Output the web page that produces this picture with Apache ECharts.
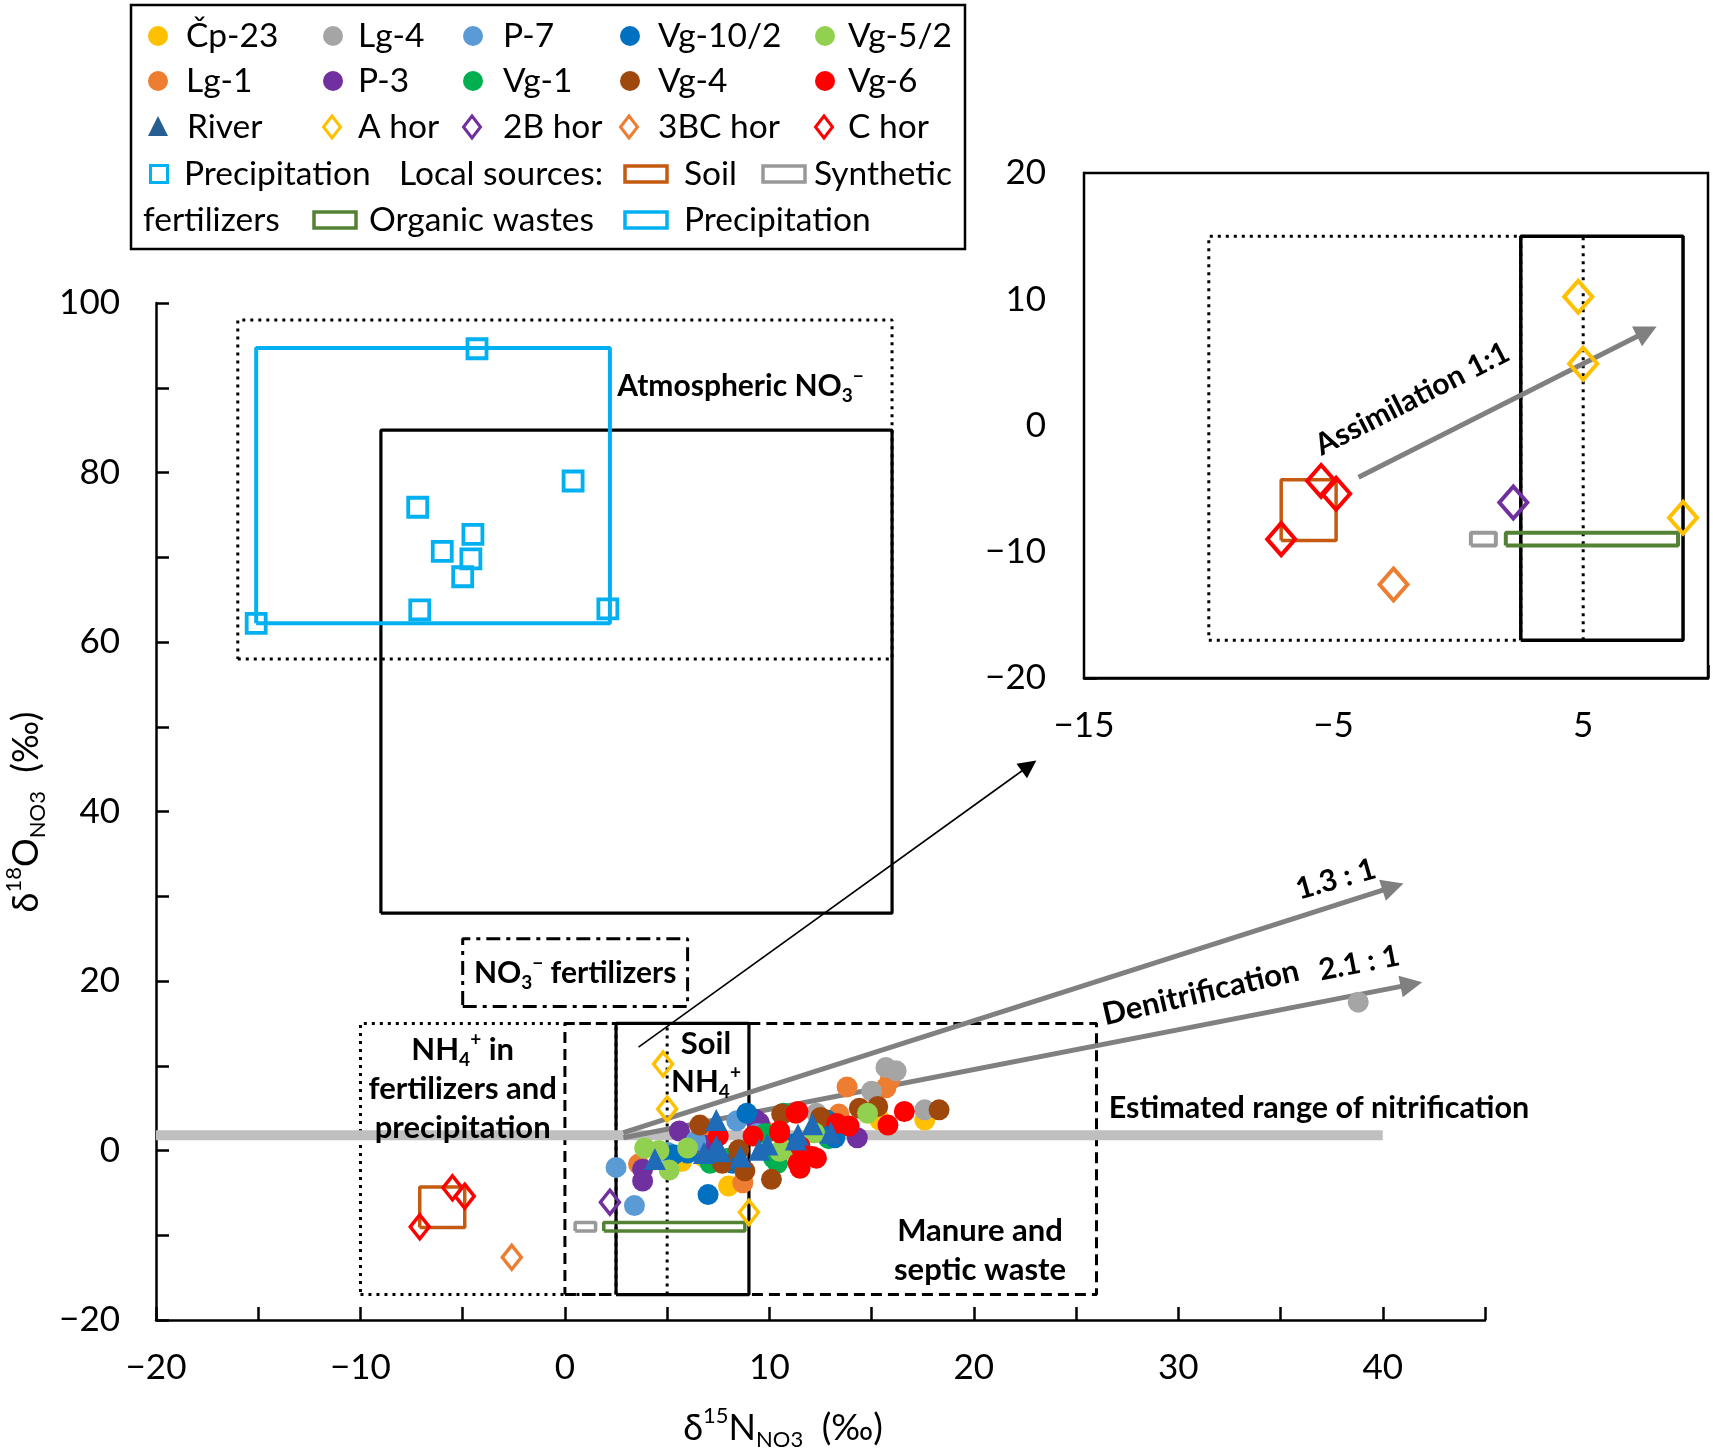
<!DOCTYPE html>
<html><head><meta charset="utf-8">
<script src="https://cdn.jsdelivr.net/npm/echarts@6/dist/echarts.min.js"></script>
<style>html,body{margin:0;padding:0;background:#fff}#c{width:1713px;height:1455px}</style>
</head><body><div id="c"></div>
<script>
// ---------- data (δ15N, δ18O) ----------
const cp23 = [[5.7,-1.3],[8.0,-4.2],[15.4,3.6],[17.6,3.6],[6.8,-0.8],[12.6,3.0]];
const lg1  = [[3.6,-1.6],[7.0,1.7],[8.7,-3.8],[13.4,4.3],[13.8,7.5],[15.7,7.4],[15.9,8.3],[9.6,2.8]];
const lg4  = [[15.7,9.8],[16.2,9.4],[15.0,7.0],[17.6,4.8],[12.3,4.4],[38.8,17.5],[6.2,0.8]];
const p3   = [[3.8,-2.2],[3.8,-3.6],[5.6,2.3],[9.3,3.7],[14.3,1.5],[9.5,3.3],[6.9,0.6]];
const p7   = [[2.5,-2.0],[3.4,-6.5],[6.4,1.1],[8.4,3.5],[5.0,-0.2],[9.4,2.0]];
const vg1  = [[7.1,-1.5],[10.4,-1.5],[10.2,-0.9],[10.7,4.4],[9.8,2.0],[8.0,-0.9],[12.9,1.4]];
const vg102= [[6.0,-0.3],[7.0,-5.2],[8.2,-1.5],[8.9,4.4],[12.8,3.6],[13.2,1.5],[5.3,-0.5],[11.2,0.8]];
const vg4  = [[6.6,3.0],[7.7,-1.5],[8.8,-2.4],[10.1,-3.4],[10.6,4.3],[14.4,5.0],[15.3,5.2],[18.3,4.8],[8.5,0.1],[12.5,3.9]];
const vg52 = [[3.9,0.3],[5.1,-2.3],[6.0,0.3],[10.5,-0.1],[14.8,4.4],[10.7,0.1],[4.6,0.0],[12.2,2.1]];
const vg6  = [[7.5,1.7],[9.2,1.7],[10.5,2.1],[11.3,4.4],[11.4,-1.5],[11.5,-2.1],[12.3,-0.9],[13.3,3.2],[13.9,2.9],[15.8,3.0],[16.6,4.6],[10.5,2.3],[11.5,0.5],[12.1,-0.7],[11.4,4.6]];
const river= [[4.4,-1.0],[6.8,-0.3],[7.4,0.5],[7.6,-0.1],[7.4,3.6],[8.6,-0.7],[9.5,0.1],[9.9,0.7],[11.3,1.3],[12.1,3.1],[13.0,2.1],[11.4,1.9]];
const aHor   = [[4.8,10.2],[5.0,4.9],[9.0,-7.3]];
const b2Hor  = [[2.2,-6.1]];
const bc3Hor = [[-2.6,-12.6]];
const cHor   = [[-5.5,-4.4],[-4.9,-5.4],[-7.1,-9.0]];
const precip = [[-4.3,94.6],[0.4,79.0],[-7.2,75.9],[-6.0,70.7],[-4.5,72.7],[-4.6,69.8],[-5.0,67.7],[-7.1,63.8],[2.1,63.9],[-15.1,62.2]];
// source ranges [xmin, xmax, ymin, ymax]
const soilSrc    = [-7.1,-4.9,-9.1,-4.3];
const synthSrc   = [0.5,1.5,-9.5,-8.5];
const organicSrc = [1.9,8.8,-9.5,-8.5];
const precipSrc  = [-15.1,2.2,62.2,94.7];
const atmBox     = [-16,16,58,98];
const atmBox2    = [-9,16,28,85];
const no3FertBox = [-5,6,17,25];
const nh4FertBox = [-10,2.5,-17,15];
const soilNH4Box = [2.5,9,-17,15];
const manureBox  = [0,26,-17,15];
const soilNH4Mid = [[5,-17],[5,15]];
const nitrifBand = [[-20,1.8],[40,1.8]];
const arrow13 = [[2.86,2.1],[40.5,31.1]];
const arrow21 = [[2.86,1.5],[41.4,19.6]];
const zoomArrow = [[3.6,12.2],[22.7,45.4]];
const assimArrow = [[-4.0,-4.1],[7.55,7.45]];
const mainX = {min:-20,max:45,step:5}, mainY = {min:-20,max:100,step:10};
const insX = {min:-15,max:10,step:2.5}, insY = {min:-20,max:20,step:5};

const FONT = 'Lato';
const fmtNum = v => (v < 0 ? '\u2212' : '') + Math.abs(v);
const rectPath = r => [[r[0],r[2]],[r[1],r[2]],[r[1],r[3]],[r[0],r[3]],[r[0],r[2]]];

const C = {cp23:'#FFC000',lg4:'#A5A5A5',p7:'#5B9BD5',vg102:'#0070C0',vg52:'#92D050',lg1:'#ED7D31',p3:'#7030A0',vg1:'#00B050',vg4:'#9E480E',vg6:'#FF0000',river:'#1F6BB8',
  soil:'#C55A11',synth:'#999999',org:'#548235',prec:'#00B0F0'};

function boxSeries(r, grid, color, width, type, z) {
  return {type:'line', xAxisIndex:grid, yAxisIndex:grid, data:rectPath(r), symbol:'none', silent:true, z:z||2,
    lineStyle:{color, width, type:type||'solid', cap:'butt'}, animation:false};
}
function segSeries(d, grid, color, width, type, z) {
  return {type:'line', xAxisIndex:grid, yAxisIndex:grid, data:d, symbol:'none', silent:true, z:z||2,
    lineStyle:{color, width, type:type||'solid', cap:'butt'}, animation:false};
}
function arrowSeries(d, grid, color, width, size) {
  return {type:'line', xAxisIndex:grid, yAxisIndex:grid, data:[], symbol:'none', silent:true, z:3,
    markLine:{silent:true, animation:false, symbol:['none','triangle'], symbolSize:size,
      label:{show:false}, lineStyle:{color, width, type:'solid'}, emphasis:{disabled:true},
      data:[[{coord:d[0]},{coord:d[1]}]]}};
}
function dots(name, data, color, grid, symbol, size) {
  return {type:'scatter', name, xAxisIndex:grid, yAxisIndex:grid, data, symbol:symbol||'circle', symbolSize:size||21,
    itemStyle:{color, opacity:1}, z:5, animation:false};
}
function hollow(name, data, color, grid, symbol, size, bw) {
  return {type:'scatter', name, xAxisIndex:grid, yAxisIndex:grid, data, symbol, symbolSize:size,
    itemStyle:{color:'rgba(255,255,255,0)', borderColor:color, borderWidth:bw||3, opacity:1}, z:6, animation:false};
}

const dotted = [3,5], dashed = [11,6], dashdot = [14,6,4,6];

const axisCommon = {
  axisLine:{show:true, onZero:false, lineStyle:{color:'#000', width:2.5}},
  axisTick:{show:true, inside:true, length:13, lineStyle:{color:'#000', width:2.5}},
  splitLine:{show:false}
};
const labelStyle = {fontSize:35, fontFamily:FONT, color:'#000'};

const series = [
  // main chart boxes
  boxSeries(atmBox, 0, '#000', 3, dotted),
  boxSeries(atmBox2, 0, '#000', 3.2),
  boxSeries(precipSrc, 0, C.prec, 4),
  boxSeries(no3FertBox, 0, '#000', 3, dashdot),
  boxSeries(nh4FertBox, 0, '#000', 3, dotted),
  boxSeries(manureBox, 0, '#000', 3, dashed),
  boxSeries(soilNH4Box, 0, '#000', 3.2),
  segSeries(soilNH4Mid, 0, '#000', 3, dotted),
  segSeries(nitrifBand, 0, '#BFBFBF', 10, 'solid', 2),
  boxSeries(soilSrc, 0, C.soil, 3.5),
  boxSeries(synthSrc, 0, C.synth, 3.5),
  boxSeries(organicSrc, 0, C.org, 3.5),
  arrowSeries(arrow13, 0, '#808080', 5, 22),
  arrowSeries(arrow21, 0, '#808080', 5, 22),
  arrowSeries(zoomArrow, 0, '#000', 1.6, 18),
  hollow('Precipitation', precip, C.prec, 0, 'rect', 19, 3.8),
  dots('Čp-23', cp23, C.cp23, 0), dots('Lg-1', lg1, C.lg1, 0), dots('Lg-4', lg4, C.lg4, 0),
  dots('P-3', p3, C.p3, 0), dots('P-7', p7, C.p7, 0), dots('Vg-1', vg1, C.vg1, 0),
  dots('Vg-10/2', vg102, C.vg102, 0), dots('Vg-4', vg4, C.vg4, 0), dots('Vg-5/2', vg52, C.vg52, 0),
  dots('Vg-6', vg6, C.vg6, 0),
  dots('River', river, C.river, 0, 'triangle', 22),
  hollow('A hor', aHor, C.cp23, 0, 'diamond', [19,24], 3.5),
  hollow('2B hor', b2Hor, C.p3, 0, 'diamond', [19,24], 3.5),
  hollow('3BC hor', bc3Hor, C.lg1, 0, 'diamond', [19,24], 3.5),
  hollow('C hor', cHor, C.vg6, 0, 'diamond', [19,24], 3.5),
  // inset
  boxSeries(nh4FertBox, 1, '#000', 3, dotted),
  boxSeries(soilNH4Box, 1, '#000', 3.5),
  segSeries(soilNH4Mid, 1, '#000', 3, dotted),
  boxSeries(soilSrc, 1, C.soil, 3.5),
  boxSeries(synthSrc, 1, C.synth, 4),
  boxSeries(organicSrc, 1, C.org, 4),
  arrowSeries(assimArrow, 1, '#808080', 5, 22),
  hollow('A hor', aHor, C.cp23, 1, 'diamond', [28,32], 4),
  hollow('2B hor', b2Hor, C.p3, 1, 'diamond', [28,32], 4),
  hollow('3BC hor', bc3Hor, C.lg1, 1, 'diamond', [28,32], 4),
  hollow('C hor', cHor, C.vg6, 1, 'diamond', [28,32], 4)
];

const chart = echarts.init(document.getElementById('c'), null, {renderer:'canvas'});
chart.setOption({
  backgroundColor:'#fff', animation:false,
  grid:[
    {left:156, top:303, width:1329, height:1017, containLabel:false},
    {left:1084, top:173, width:624, height:505, show:true, backgroundColor:'#fff', borderColor:'#000', borderWidth:2.5, z:1}
  ],
  xAxis:[
    Object.assign({type:'value', gridIndex:0, min:mainX.min, max:mainX.max, interval:mainX.step,
      axisLabel:Object.assign({margin:30, formatter:v => (v%10===0 && v<=40) ? fmtNum(v) : ''}, labelStyle)}, axisCommon),
    Object.assign({type:'value', gridIndex:1, min:insX.min, max:insX.max, interval:insX.step,
      axisLabel:Object.assign({margin:30, formatter:v => (Math.abs((v+15)%10)<1e-6 && v<10) ? fmtNum(v) : ''}, labelStyle)}, axisCommon)
  ],
  yAxis:[
    Object.assign({type:'value', gridIndex:0, min:mainY.min, max:mainY.max, interval:mainY.step,
      axisLabel:Object.assign({margin:36, formatter:v => (v%20===0) ? fmtNum(v) : ''}, labelStyle)}, axisCommon),
    Object.assign({type:'value', gridIndex:1, min:insY.min, max:insY.max, interval:insY.step,
      axisLabel:Object.assign({margin:38, formatter:v => (v%10===0) ? fmtNum(v) : ''}, labelStyle)}, axisCommon)
  ],
  series
});

// ---------- text annotations & legend ----------
const sub = {fontSize:19, fontWeight:'bold', fontFamily:FONT, verticalAlign:'bottom', lineHeight:22};
const sup = {fontSize:19, fontWeight:'bold', fontFamily:FONT, verticalAlign:'top', lineHeight:22};
const px = (g, p) => chart.convertToPixel({xAxisIndex:g, yAxisIndex:g}, p);
const gfx = [];
function note(g, p, text, opt) {
  opt = opt || {};
  const q = px(g, p);
  gfx.push({type:'text', x:q[0], y:q[1], rotation:(opt.rot||0)*Math.PI/180, z:100,
    style:{text, fontFamily:FONT, fontWeight:'bold', fontSize:opt.fs||31, lineHeight:opt.lh||38, fill:'#000',
      align:opt.align||'center', verticalAlign:'middle', rich:{sub, sup}}});
}
note(0, [2.56, 90.2], 'Atmospheric NO{sub|3}{sup|\u2212}', {align:'left', fs:30});
note(0, [0.5, 20.9], 'NO{sub|3}{sup|\u2212} fertilizers', {fs:30});
note(0, [-5.0, 7.3], 'NH{sub|4}{sup|+} in\nfertilizers and\nprecipitation', {lh:39});
note(0, [6.9, 10.3], 'Soil\nNH{sub|4}{sup|+}', {lh:38});
note(0, [20.3, -11.75], 'Manure and\nseptic waste', {lh:39});
note(0, [26.6, 5.0], 'Estimated range of nitrification', {align:'left', fs:30.5});
note(0, [31.1, 18.6], 'Denitrification', {rot:13, fs:31});
note(0, [37.7, 32.0], '1.3 : 1', {rot:16, fs:30});
note(0, [38.85, 22.1], '2.1 : 1', {rot:11, fs:30});
note(1, [-1.85, 2.1], 'Assimilation 1:1', {rot:27, fs:30});

// axis titles
const tsub = {fontSize:22, fontFamily:FONT, verticalAlign:'bottom', lineHeight:24};
const tsup = {fontSize:22, fontFamily:FONT, verticalAlign:'top', lineHeight:24};
gfx.push({type:'text', x:783, y:1428, z:100, style:{text:'\u03b4{sup|15}N{sub|NO3}  (\u2030)', fontFamily:FONT, fontSize:36, lineHeight:46,
  fill:'#000', align:'center', verticalAlign:'middle', rich:{sub:tsub, sup:tsup}}});
gfx.push({type:'text', x:26, y:812, rotation:Math.PI/2, z:100, style:{text:'\u03b4{sup|18}O{sub|NO3}  (\u2030)', fontFamily:FONT, fontSize:36, lineHeight:46,
  fill:'#000', align:'center', verticalAlign:'middle', rich:{sub:tsub, sup:tsup}}});

// legend
const LF = 33.5;
gfx.push({type:'rect', z:110, shape:{x:131, y:5, width:834, height:244}, style:{fill:'#fff', stroke:'#000', lineWidth:2.5}});
const rows = [36, 81, 127, 174, 220];
function ltext(x, y, t) { gfx.push({type:'text', z:112, x, y, style:{text:t, fontFamily:FONT, fontSize:LF, fill:'#000', align:'left', verticalAlign:'middle'}}); }
function lcircle(x, y, c) { gfx.push({type:'circle', z:112, shape:{cx:x, cy:y, r:10}, style:{fill:c}}); }
function ldiamond(x, y, c) { gfx.push({type:'polygon', z:112, shape:{points:[[x,y-11],[x+8.5,y],[x,y+11],[x-8.5,y]]}, style:{fill:'none', stroke:c, lineWidth:3}}); }
function lrect(x, y, w, h, c, lw) { gfx.push({type:'rect', z:112, shape:{x:x-w/2, y:y-h/2, width:w, height:h}, style:{fill:'none', stroke:c, lineWidth:lw}}); }
const colX = [158, 333, 473, 630, 825], txtX = [186, 358, 503, 658, 848];
const row1 = [['Čp-23',C.cp23],['Lg-4',C.lg4],['P-7',C.p7],['Vg-10/2',C.vg102],['Vg-5/2',C.vg52]];
const row2 = [['Lg-1',C.lg1],['P-3',C.p3],['Vg-1',C.vg1],['Vg-4',C.vg4],['Vg-6',C.vg6]];
row1.forEach((e,i)=>{lcircle(colX[i], rows[0], e[1]); ltext(txtX[i], rows[0], e[0]);});
row2.forEach((e,i)=>{lcircle(colX[i], rows[1], e[1]); ltext(txtX[i], rows[1], e[0]);});
gfx.push({type:'polygon', z:112, shape:{points:[[158,rows[2]-11],[168,rows[2]+9],[148,rows[2]+9]]}, style:{fill:'#255E91'}});
ltext(187, rows[2], 'River');
const row3 = [['A hor',C.cp23],['2B hor',C.p3],['3BC hor',C.lg1],['C hor',C.vg6]];
row3.forEach((e,i)=>{ldiamond(colX[i+1]-1, rows[2], e[1]); ltext(txtX[i+1], rows[2], e[0]);});
lrect(159, rows[3], 17, 17, C.prec, 3);
ltext(184, rows[3], 'Precipitation');
ltext(399, rows[3], 'Local sources:');
lrect(646, rows[3], 42, 16, C.soil, 3.5); ltext(684, rows[3], 'Soil');
lrect(784, rows[3], 42, 16, C.synth, 3.5); ltext(814, rows[3], 'Synthetic');
ltext(143, rows[4], 'fertilizers');
lrect(335, rows[4], 42, 16, C.org, 3.5); ltext(369, rows[4], 'Organic wastes');
lrect(646, rows[4], 42, 16, C.prec, 3.5); ltext(684, rows[4], 'Precipitation');

chart.setOption({graphic:{elements:gfx}});
</script>
</body></html>
